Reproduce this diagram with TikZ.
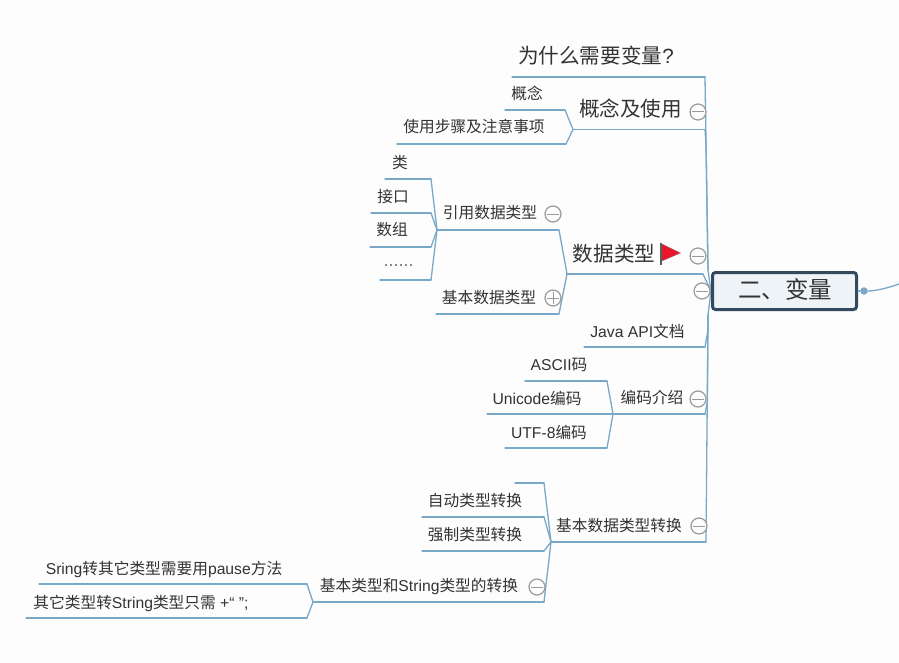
\documentclass[tikz,border=0pt]{standalone}
\usepackage{fontspec}
\setmainfont{Liberation Sans}
\newfontfamily\cjk{Noto Sans CJK SC}
\newcommand{\zh}[1]{{\cjk #1}}
\definecolor{linkblue}{HTML}{7AA8C8}
\definecolor{txt}{HTML}{333333}
\definecolor{tog}{HTML}{9A9A9A}
\definecolor{rootedge}{HTML}{34495E}
\definecolor{rootfill}{HTML}{EEF3F7}
\definecolor{paper}{HTML}{FDFDFD}
\definecolor{flagred}{HTML}{E8152B}
\tikzset{
  x=1pt,y=-1pt,
  link/.style={draw=linkblue,line width=1.3pt,line join=round,line cap=round},
  label/.style={text=txt,inner sep=0pt,anchor=center},
  big/.style={label,font=\fontsize{20.6}{22}\selectfont},
  mid/.style={label,font=\fontsize{15.7}{18}\selectfont},
  dots/.style={label,text=black!55,font=\fontsize{18}{18}\selectfont},
  toggle/.style={circle,draw=tog,fill=paper,line width=1.2pt,minimum size=16pt,inner sep=0pt},
}
% name, x1, x2, line y, text x, text y, style, text
\newcommand{\topic}[8]{%
  \coordinate (#1L) at (#2,#4);
  \coordinate (#1R) at (#3,#4);
  \draw[link] (#1L) -- (#1R);
  \node[#7] (#1) at (#5,#6) {#8};
}
\newcommand{\minus}[3]{%
  \node[toggle] (#1) at (#2,#3) {};
  \draw[tog,line width=1pt] ([xshift=2.5pt]#1.west) -- ([xshift=-2.5pt]#1.east);
}
\newcommand{\plus}[3]{%
  \node[toggle] (#1) at (#2,#3) {};
  \draw[tog,line width=1pt] ([xshift=2.5pt]#1.west) -- ([xshift=-2.5pt]#1.east);
  \draw[tog,line width=1pt] ([yshift=-2.5pt]#1.north) -- ([yshift=2.5pt]#1.south);
}
\begin{document}
\begin{tikzpicture}
\useasboundingbox[fill=paper] (0,0) rectangle (899,663);
% main topics
\topic{why}{512}{705}{77}{596}{56}{big}{\zh{为什么需要变量}?}
\topic{concept}{573}{705}{129.5}{630.5}{109}{big}{\zh{概念及使用}}
\topic{cA}{505}{565}{110}{527}{93}{mid}{\zh{概念}}
\topic{cB}{397}{566}{144}{474}{127}{mid}{\zh{使用步骤及注意事项}}
\topic{dtype}{567}{703}{274}{614}{254}{big}{\zh{数据类型}}
\topic{ref}{437}{559}{230}{490}{213}{mid}{\zh{引用数据类型}}
\topic{basic}{436}{559}{314}{489}{298}{mid}{\zh{基本数据类型}}
\topic{rA}{385}{431}{179}{400}{163}{mid}{\zh{类}}
\topic{rB}{371}{431}{213}{393}{197}{mid}{\zh{接口}}
\topic{rC}{370}{431}{247}{392}{230}{mid}{\zh{数组}}
\topic{rD}{380}{431}{280}{398.5}{266}{dots}{......}
\topic{java}{584}{705}{347}{637.5}{331}{mid}{Java API\zh{文档}}
\topic{enc}{613}{705}{414}{652}{397}{mid}{\zh{编码介绍}}
\topic{eA}{525}{607}{381}{559}{365}{mid}{ASCII\zh{码}}
\topic{eB}{487}{611}{414}{537}{398}{mid}{Unicode\zh{编码}}
\topic{eC}{505}{607}{448}{549}{432}{mid}{UTF-8\zh{编码}}
\topic{conv}{551}{706}{542}{619}{526}{mid}{\zh{基本数据类型转换}}
\topic{vBlank}{515}{544}{483}{530}{470}{mid}{}
\topic{vA}{422}{544}{517}{475}{501}{mid}{\zh{自动类型转换}}
\topic{vB}{422}{544}{551}{475}{535}{mid}{\zh{强制类型转换}}
\topic{vC}{313}{544}{602}{419}{586}{mid}{\zh{基本类型和}String\zh{类型的转换}}
\topic{sA}{39}{307}{584}{164}{569}{mid}{Sring\zh{转其它类型需要用}pause\zh{方法}}
\topic{sB}{26}{307}{618}{141}{603}{mid}{\zh{其它类型转}String\zh{类型只需} +“ ”;}
% trunk from the root
\coordinate (hub) at (711,291);
\coordinate (trunkUp) at (708,270);
\coordinate (trunkDown) at (708,315);
\coordinate (kneeConcept) at (706,145);
\coordinate (kneeJava) at (707.6,332);
\coordinate (kneeEnc) at (707.4,402);
\draw[link] (hub) -- (trunkUp) -- (whyR);
\draw[link] (trunkUp) -- (kneeConcept) -- (conceptR);
\draw[link] (hub) -- (dtypeR);
\draw[link] (hub) -- (trunkDown) -- (convR);
\draw[link] (trunkDown) -- (kneeJava) -- (javaR);
\draw[link] (trunkDown) -- (kneeEnc) -- (encR);
% branches
\foreach \c in {cA,cB} \draw[link] (conceptL) -- (\c R);
\foreach \c in {ref,basic} \draw[link] (dtypeL) -- (\c R);
\foreach \c in {rA,rB,rC,rD} \draw[link] (refL) -- (\c R);
\foreach \c in {eA,eB,eC} \draw[link] (encL) -- (\c R);
\foreach \c in {vBlank,vA,vB,vC} \draw[link] (convL) -- (\c R);
\foreach \c in {sA,sB} \draw[link] (vCL) -- (\c R);
% toggles
\minus{t1}{698}{112}
\minus{t2}{698}{256}
\minus{t3}{553}{214}
\plus{t4}{553}{298}
\minus{t5}{702}{291}
\minus{t6}{698}{399}
\minus{t7}{699}{526}
\minus{t8}{537}{587}
% flag
\coordinate (flagbase) at (660.5,265);
\draw[line width=2pt,draw=black!65] (flagbase) -- (660.5,243);
\fill[draw=black!50,fill=flagred,line width=0.3pt] (662,244) -- (680.5,253) -- (662,261) -- cycle;
% root node
\node[draw=rootedge,fill=rootfill,line width=3pt,rounded corners=3pt,minimum width=144pt,minimum height=37pt,inner sep=0pt] (root) at (784.5,291) {};
\node[label,font=\fontsize{23.5}{25}\selectfont] (rootText) at (785,289) {\zh{二、变量}};
\node[circle,fill=linkblue,inner sep=0pt,minimum size=7.5pt] (dot) at (864,291) {};
\coordinate (rightEnd) at (899,284);
\draw[link] (root.east) -- (dot);
\draw[link] (dot) .. controls (875,291) and (888,288) .. (rightEnd);
\end{tikzpicture}
\end{document}
